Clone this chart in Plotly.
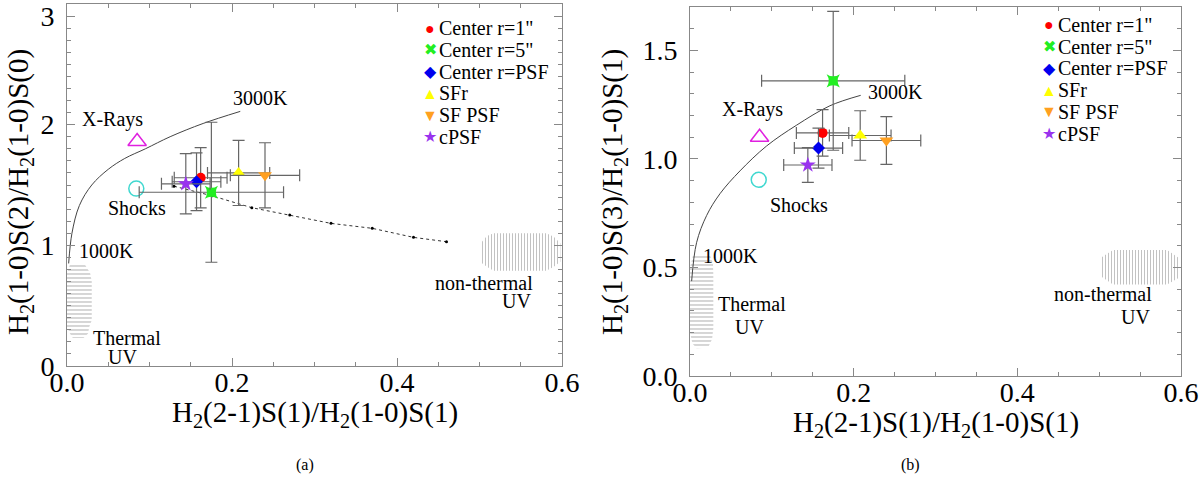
import plotly.graph_objects as go
from plotly.subplots import make_subplots

# measured line ratios, shared x between the two panels
names = ['Center r=1"', 'Center r=5"', 'Center r=PSF', 'SFr', 'SF PSF', 'cPSF']
symbols = ['circle', 'star-square', 'diamond', 'triangle-up', 'triangle-down', 'star']
glyphs = ['\u25cf', '\u2716', '\u25c6', '\u25b2', '\u25bc', '\u2605']
colors = ['#ff0000', '#22ee22', '#0000ee', '#ffff00', '#ffa020', '#9933ee']
sizes = [10, 12, 10, 12, 12, 12]

ratio_21_10 = [0.162, 0.175, 0.157, 0.208, 0.240, 0.144]
ratio_21_10_err = [0.032, 0.0875, 0.0295, 0.0377, 0.042, 0.0295]

ratio_s2_s0 = [1.56, 1.44, 1.527, 1.60, 1.58, 1.51]
ratio_s2_s0_err = [0.25, 0.58, 0.24, 0.27, 0.27, 0.25]

ratio_s3_s1 = [1.12, 1.36, 1.05, 1.108, 1.085, 0.972]
ratio_s3_s1_err = [0.107, 0.32, 0.092, 0.114, 0.11, 0.08]

# thermal curve 1000K -> 3000K
thermal_x_a = [0.002, 0.006, 0.015, 0.03, 0.05, 0.07, 0.095, 0.125, 0.165, 0.21]
thermal_y_a = [0.85, 1.10, 1.33, 1.50, 1.63, 1.72, 1.80, 1.90, 2.01, 2.11]
thermal_x_b = [0.002, 0.008, 0.0204, 0.0367, 0.0611, 0.0937, 0.130, 0.171, 0.2086]
thermal_y_b = [0.437, 0.614, 0.74, 0.84, 0.945, 1.06, 1.155, 1.245, 1.293]

# dotted model track (panel a only)
track_x = [0.1297, 0.176, 0.224, 0.270, 0.320, 0.370, 0.420, 0.460]
track_y = [1.49, 1.41, 1.312, 1.251, 1.182, 1.141, 1.066, 1.030]

# reference points
xray_x, xray_a, xray_b = 0.085, 1.86, 1.10
shock_x, shock_a, shock_b = 0.084, 1.47, 0.904

# hatched regions (outline vertices)
th_uv_x_a = [0.0036, 0.0218, 0.028, 0.030, 0.030, 0.027, 0.0255, 0.020, 0.007, 0.0036, 0.0, 0.0, 0.0036]
th_uv_y_a = [0.84, 0.84, 0.77, 0.70, 0.38, 0.326, 0.27, 0.232, 0.232, 0.27, 0.326, 0.77, 0.84]
nth_uv_x_a = [0.503, 0.509, 0.517, 0.581, 0.590, 0.598, 0.598, 0.590, 0.581, 0.517, 0.509, 0.503, 0.503]
nth_uv_y_a = [1.03, 1.077, 1.10, 1.10, 1.071, 1.017, 0.864, 0.823, 0.79, 0.79, 0.823, 0.851, 1.03]
th_uv_x_b = [0.004, 0.024, 0.028, 0.0285, 0.0285, 0.027, 0.022, 0.008, 0.003, 0.0, 0.0, 0.004]
th_uv_y_b = [0.56, 0.56, 0.52, 0.47, 0.22, 0.17, 0.13, 0.128, 0.15, 0.2, 0.5, 0.56]
nth_uv_x_b = [0.502, 0.517, 0.583, 0.597, 0.597, 0.583, 0.517, 0.502, 0.502]
nth_uv_y_b = [0.545, 0.58, 0.58, 0.545, 0.452, 0.421, 0.421, 0.46, 0.545]

FONT = "Liberation Serif"
AX = "#888888"
ERR = "#666666"

fig = make_subplots(rows=1, cols=2)


def hatch(x, y, shape, size, col):
    fig.add_trace(go.Scatter(x=x, y=y, mode="lines", fill="toself", line=dict(width=0),
                             fillcolor="rgba(0,0,0,0)",
                             fillpattern=dict(shape=shape, fgcolor="#777777", bgcolor="rgba(0,0,0,0)",
                                              size=size, solidity=0.3),
                             showlegend=False, hoverinfo="skip"), row=1, col=col)


hatch(th_uv_x_a, th_uv_y_a, "-", 4, 1)
hatch(nth_uv_x_a, nth_uv_y_a, "|", 3, 1)
hatch(th_uv_x_b, th_uv_y_b, "-", 4, 2)
hatch(nth_uv_x_b, nth_uv_y_b, "|", 3, 2)

fig.add_trace(go.Scatter(x=thermal_x_a, y=thermal_y_a, mode="lines", line=dict(color="#444", width=1, shape="spline"),
                         showlegend=False), row=1, col=1)
fig.add_trace(go.Scatter(x=thermal_x_b, y=thermal_y_b, mode="lines", line=dict(color="#444", width=1, shape="spline"),
                         showlegend=False), row=1, col=2)
fig.add_trace(go.Scatter(x=track_x, y=track_y, mode="lines+markers", line=dict(color="#333", width=1, dash="dot"),
                         marker=dict(size=3, color="black"), showlegend=False), row=1, col=1)

for col, xr, sh in [(1, xray_a, shock_a), (2, xray_b, shock_b)]:
    fig.add_trace(go.Scatter(x=[xray_x], y=[xr], mode="markers",
                             marker=dict(symbol="triangle-up-open", size=16, color="#e020e0", line=dict(width=1.5)),
                             showlegend=False), row=1, col=col)
    fig.add_trace(go.Scatter(x=[shock_x], y=[sh], mode="markers",
                             marker=dict(symbol="circle-open", size=15, color="#40d8d0", line=dict(width=1.5)),
                             showlegend=False), row=1, col=col)

for i in range(len(names)):
    for col, yv, ye in [(1, ratio_s2_s0, ratio_s2_s0_err), (2, ratio_s3_s1, ratio_s3_s1_err)]:
        fig.add_trace(go.Scatter(
            x=[ratio_21_10[i]], y=[yv[i]], mode="markers", name=names[i], showlegend=False,
            marker=dict(symbol=symbols[i], size=sizes[i], color=colors[i], line=dict(width=0)),
            error_x=dict(type="data", array=[ratio_21_10_err[i]], color=ERR, thickness=1.2, width=6),
            error_y=dict(type="data", array=[ye[i]], color=ERR, thickness=1.2, width=6),
        ), row=1, col=col)

axis_common = dict(showgrid=False, zeroline=False, showline=True, linecolor=AX, linewidth=1,
                   mirror="allticks", ticks="inside", ticklen=8, tickcolor=AX, automargin=False,
                   ticklabeloverflow="allow", tickfont=dict(family=FONT, size=28, color="black"))

fig.update_xaxes(range=[0, 0.6], dtick=0.2, tick0=0, tickformat=".1f", ticklabelstandoff=-9,
                 minor=dict(dtick=0.05, tick0=0, ticks="inside", ticklen=4, tickcolor=AX), **axis_common)
# top label sits a touch below the frame corner, as in the original
fig.update_yaxes(range=[0, 3], tickmode="array", tickvals=[0, 1, 2, 2.9], ticktext=["0", "1", "2", "3"],
                 ticklabelstandoff=6,
                 minor=dict(dtick=0.1, tick0=0, ticks="inside", ticklen=4, tickcolor=AX),
                 row=1, col=1, **axis_common)
fig.update_yaxes(range=[0, 1.7], dtick=0.5, tick0=0, tickformat=".1f", ticklabelstandoff=6,
                 minor=dict(dtick=0.1, tick0=0, ticks="inside", ticklen=4, tickcolor=AX),
                 row=1, col=2, **axis_common)

fig.update_layout(
    xaxis=dict(domain=[67 / 1200, 562 / 1200]),
    yaxis=dict(domain=[118 / 484, 480 / 484]),
    xaxis2=dict(domain=[690 / 1200, 1181 / 1200]),
    yaxis2=dict(domain=[108 / 484, 477 / 484]),
)

ann = []


def label(text, x, y, ref, anchor="center", size=20):
    ann.append(dict(text=text, x=x, y=y, xref="x" + ref, yref="y" + ref, showarrow=False,
                    xanchor=anchor, yanchor="middle", font=dict(family=FONT, size=size, color="black")))


label("3000K", 0.234, 2.22, "")
label("X-Rays", 0.0555, 2.04, "")
label("Shocks", 0.0845, 1.309, "")
label("1000K", 0.048, 0.955, "")
label("Thermal", 0.0727, 0.235, "")
label("UV", 0.0667, 0.078, "")
label("non-thermal", 0.567, 0.69, "", "right")
label("UV", 0.5645, 0.542, "", "right")

label("3000K", 0.2517, 1.309, "2")
label("X-Rays", 0.0764, 1.228, "2")
label("Shocks", 0.1338, 0.787, "2")
label("1000K", 0.050, 0.552, "2")
label("Thermal", 0.0758, 0.332, "2")
label("UV", 0.073, 0.228, "2")
label("non-thermal", 0.567, 0.378, "2", "right")
label("UV", 0.564, 0.271, "2", "right")


def paper(text, x, y, size, angle=0, anchor="center", color="black"):
    ann.append(dict(text=text, x=x / 1200, y=1 - y / 484, xref="paper", yref="paper", showarrow=False,
                    xanchor=anchor, yanchor="middle", textangle=angle,
                    font=dict(family=FONT, size=size, color=color)))


paper("H<sub>2</sub>(2-1)S(1)/H<sub>2</sub>(1-0)S(1)", 314.5, 414, 29)
paper("H<sub>2</sub>(2-1)S(1)/H<sub>2</sub>(1-0)S(1)", 935.5, 424, 29)
paper("H<sub>2</sub>(1-0)S(2)/H<sub>2</sub>(1-0)S(0)", 20, 192, 29, -90)
paper("H<sub>2</sub>(1-0)S(3)/H<sub>2</sub>(1-0)S(1)", 614, 192, 29, -90)
paper("(a)", 305, 465, 16)
paper("(b)", 910, 465, 16)

# legend boxes, one per panel
for mx, y0 in [(430, 28.3), (1049, 25)]:
    for i in range(len(names)):
        y = y0 + i * 21.7
        paper(glyphs[i], mx, y, 16, color=colors[i])
        paper(names[i], mx + 7, y, 20, anchor="left")

fig.update_layout(
    width=1200, height=484,
    margin=dict(l=0, r=0, t=0, b=0),
    paper_bgcolor="white", plot_bgcolor="white",
    font=dict(family=FONT),
    annotations=ann,
    showlegend=False,
)

fig.write_html("out.html", config={"displayModeBar": False},
               post_script="document.body.style.margin='0';document.body.style.overflow='hidden';")
